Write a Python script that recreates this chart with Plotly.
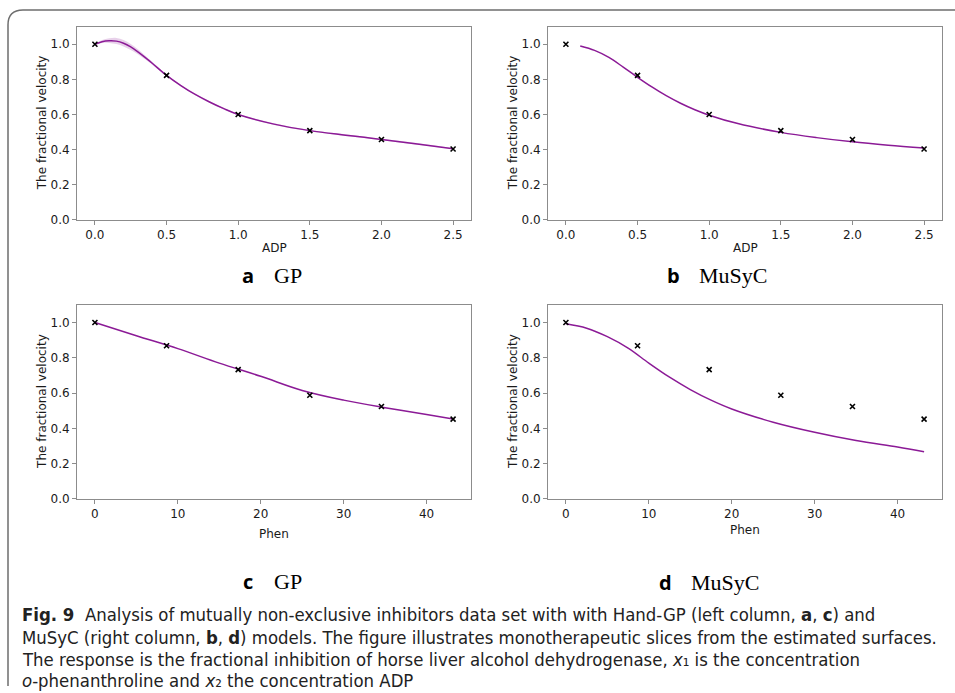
import plotly.graph_objects as go

W, H = 955, 693

# ---------------- data ----------------
adp_pts = [0.0, 0.5, 1.0, 1.5, 2.0, 2.5]
v_adp = [1.000, 0.823, 0.600, 0.508, 0.457, 0.403]
phen_pts = [0.0, 8.64, 17.28, 25.92, 34.56, 43.2]
v_phen = [1.000, 0.868, 0.733, 0.588, 0.524, 0.452]

gp_adp_x = [0.0, 0.05, 0.1, 0.15, 0.2, 0.25, 0.3, 0.35, 0.4, 0.5, 0.6, 0.7, 0.8, 0.9, 1.0, 1.25, 1.5, 1.75, 2.0, 2.25, 2.5]
gp_adp_y = [1.0, 1.015, 1.02, 1.018, 1.006, 0.985, 0.957, 0.925, 0.892, 0.823, 0.765, 0.714, 0.671, 0.633, 0.600, 0.545, 0.508, 0.482, 0.458, 0.432, 0.405]
gp_adp_up = [1.003, 1.024, 1.034, 1.036, 1.025, 1.002, 0.971, 0.936, 0.900, 0.827, 0.769, 0.718, 0.675, 0.637, 0.603, 0.550, 0.511, 0.487, 0.461, 0.437, 0.408]
gp_adp_lo = [0.997, 1.007, 1.007, 1.001, 0.988, 0.968, 0.943, 0.914, 0.884, 0.819, 0.761, 0.710, 0.667, 0.629, 0.597, 0.540, 0.505, 0.477, 0.455, 0.427, 0.402]

musyc_adp_x = [0.1, 0.2, 0.3, 0.4, 0.5, 0.6, 0.7, 0.8, 0.9, 1.0, 1.2, 1.5, 1.75, 2.0, 2.25, 2.5]
musyc_adp_y = [0.990, 0.965, 0.925, 0.870, 0.812, 0.757, 0.707, 0.664, 0.627, 0.596, 0.548, 0.498, 0.468, 0.444, 0.425, 0.409]

gp_phen_x = [0.0, 5.0, 10.0, 15.0, 20.0, 25.0, 30.0, 35.0, 40.0, 43.2]
gp_phen_y = [1.0, 0.925, 0.852, 0.770, 0.695, 0.615, 0.560, 0.517, 0.478, 0.453]

musyc_phen_x = [0.0, 2.5, 5.0, 7.5, 10.0, 12.5, 15.0, 17.5, 20.0, 25.0, 30.0, 35.0, 40.0, 43.2]
musyc_phen_y = [0.993, 0.968, 0.920, 0.855, 0.770, 0.690, 0.620, 0.560, 0.510, 0.435, 0.378, 0.331, 0.294, 0.268]

y_ticks = [0.0, 0.2, 0.4, 0.6, 0.8, 1.0]
adp_ticks = [0.0, 0.5, 1.0, 1.5, 2.0, 2.5]
phen_ticks = [0, 10, 20, 30, 40]

panel_letters = ["a", "b", "c", "d"]
panel_models = ["GP", "MuSyC", "GP", "MuSyC"]
y_title = "The fractional velocity"
x_titles = ["ADP", "ADP", "Phen", "Phen"]
caption_lines = [
    "<b>Fig. 9</b>  Analysis of mutually non-exclusive inhibitors data set with with Hand-GP (left column, <b>a</b>, <b>c</b>) and",
    "MuSyC (right column, <b>b</b>, <b>d</b>) models. The figure illustrates monotherapeutic slices from the estimated surfaces.",
    "The response is the fractional inhibition of horse liver alcohol dehydrogenase, <i>x</i>\u2081 is the concentration",
    "<i>o</i>-phenanthroline and <i>x</i>\u2082 the concentration ADP",
]

# ---------------- helpers ----------------
def px(x):
    return x / W

def py(y):
    return 1 - y / H

PURPLE = "#8b1a96"
BAND = "rgba(139,26,150,0.2)"
AXC = "#8c8c8c"
TXT = "#1a1a1a"
TICKFONT = dict(family="DejaVu Sans", size=12, color=TXT)

fig = go.Figure()

# panel geometry in pixels: (left, right, top, bottom)
panels = [
    (77, 471, 27, 222),
    (548, 942, 27, 222),
    (77, 471, 308, 504),
    (548, 942, 308, 504),
]
axis_names = [("x", "y"), ("x2", "y2"), ("x3", "y3"), ("x4", "y4")]

# panel a: uncertainty band
fig.add_trace(go.Scatter(x=gp_adp_x, y=gp_adp_up, mode="lines", line=dict(width=0, shape="spline"),
                         hoverinfo="skip", showlegend=False, xaxis="x", yaxis="y"))
fig.add_trace(go.Scatter(x=gp_adp_x, y=gp_adp_lo, mode="lines", line=dict(width=0, shape="spline"),
                         fill="tonexty", fillcolor=BAND, hoverinfo="skip", showlegend=False, xaxis="x", yaxis="y"))

curves = [
    (gp_adp_x, gp_adp_y, adp_pts, v_adp),
    (musyc_adp_x, musyc_adp_y, adp_pts, v_adp),
    (gp_phen_x, gp_phen_y, phen_pts, v_phen),
    (musyc_phen_x, musyc_phen_y, phen_pts, v_phen),
]

for i, (cx, cy, mx, my) in enumerate(curves):
    xa, ya = axis_names[i]
    fig.add_trace(go.Scatter(x=cx, y=cy, mode="lines", line=dict(color=PURPLE, width=1.5, shape="spline"),
                             showlegend=False, xaxis=xa, yaxis=ya))
    fig.add_trace(go.Scatter(x=mx, y=my, mode="markers",
                             marker=dict(symbol="x-thin", size=5, line=dict(color="black", width=1.6), color="black"),
                             showlegend=False, xaxis=xa, yaxis=ya))

layout = dict(width=W, height=H, margin=dict(l=0, r=0, t=0, b=0),
              paper_bgcolor="white", plot_bgcolor="white", showlegend=False)

for i, (l, r, t, b) in enumerate(panels):
    sfx = "" if i == 0 else str(i + 1)
    xcommon = dict(domain=[px(l), px(r)], anchor="y" + sfx, showline=True, mirror=True,
                   linecolor=AXC, linewidth=1, ticks="outside", ticklen=4, tickcolor=AXC,
                   showgrid=False, zeroline=False, tickfont=TICKFONT)
    if i < 2:
        xcommon.update(range=[-0.125, 2.625], tickvals=adp_ticks, tickformat=".1f")
    else:
        xcommon.update(range=[-2.16, 45.36], tickvals=phen_ticks)
    ycommon = dict(domain=[py(b), py(t)], anchor="x" + sfx, showline=True, mirror=True,
                   linecolor=AXC, linewidth=1, ticks="outside", ticklen=4, tickcolor=AXC,
                   showgrid=False, zeroline=False, tickfont=TICKFONT,
                   range=[0, 1.1], tickvals=y_ticks, tickformat=".1f")
    layout["xaxis" + sfx] = xcommon
    layout["yaxis" + sfx] = ycommon

fig.update_layout(**layout)

annotations = []
for i, (l, r, t, b) in enumerate(panels):
    annotations.append(dict(x=px(l - 35), y=py((t + b) / 2), xref="paper", yref="paper", text=y_title,
                            textangle=-90, showarrow=False, xanchor="center", yanchor="middle",
                            font=dict(family="DejaVu Sans", size=12, color=TXT)))
x_title_y = [251, 251, 539, 535]
for i, (l, r, t, b) in enumerate(panels):
    annotations.append(dict(x=px((l + r) / 2), y=py(x_title_y[i]), xref="paper", yref="paper", text=x_titles[i],
                            showarrow=False, xanchor="center", yanchor="middle",
                            font=dict(family="DejaVu Sans", size=12, color=TXT)))
sub_pos = [(248, 278), (673, 278), (248, 587), (665, 588)]
for i, (sx, sy) in enumerate(sub_pos):
    annotations.append(dict(x=px(sx), y=py(sy), xref="paper", yref="paper",
                            text="<b>" + panel_letters[i] + "</b>", showarrow=False,
                            xanchor="center", yanchor="middle",
                            font=dict(family="Open Sans", size=20, color="black")))
    annotations.append(dict(x=px(sx + 24), y=py(sy), xref="paper", yref="paper",
                            text=panel_models[i], showarrow=False,
                            xanchor="left", yanchor="middle",
                            font=dict(family="Liberation Serif", size=22, color="black")))
cap_y = [621, 644, 666, 687]
for j, line in enumerate(caption_lines):
    annotations.append(dict(x=px(20), y=py(cap_y[j]), xref="paper", yref="paper", text=line,
                            showarrow=False, xanchor="left", yanchor="middle", align="left",
                            font=dict(family="DejaVu Sans Condensed, Noto Sans", size=18.4, color="#222")))

fig.update_layout(annotations=annotations)

def frame_path():
    pts = [
        f"M {px(960)},{py(10)}",
        f"L {px(23)},{py(10)}",
        f"Q {px(8)},{py(10)} {px(8)},{py(25)}",
        f"L {px(8)},{py(693)}",
    ]
    return " ".join(pts)

fig.add_shape(type="path", path=frame_path(), xref="paper", yref="paper",
              line=dict(color="#6e6e6e", width=1.5))

fig.write_html("out.html", config={"displayModeBar": False},
               post_script="document.body.style.margin='0';document.body.style.overflow='hidden';")
